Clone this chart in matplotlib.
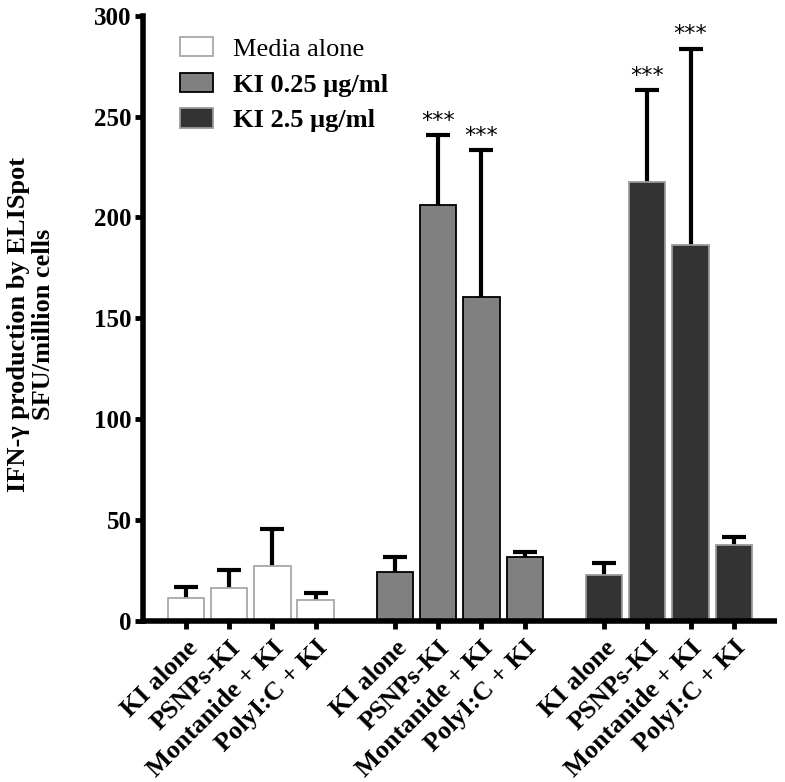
import matplotlib
matplotlib.use('Agg')
import matplotlib.pyplot as plt
import numpy as np
from matplotlib.patches import Patch

plt.rcParams['font.family'] = 'Liberation Serif'
plt.rcParams['font.weight'] = 'bold'
plt.rcParams['axes.labelweight'] = 'bold'

# values, SFU/million cells
categories = ['KI alone', 'PSNPs-KI', 'Montanide + KI', 'PolyI:C + KI']
groups = ['Media alone', 'KI 0.25 \u03bcg/ml', 'KI 2.5 \u03bcg/ml']
means = [
    [11.5, 16.3, 27.0, 10.2],
    [24.0, 206.3, 160.5, 31.6],
    [22.9, 217.6, 186.5, 37.6],
]
upper = [
    [16.9, 25.2, 45.6, 13.8],
    [31.6, 240.9, 233.4, 34.1],
    [28.7, 263.2, 283.7, 41.4],
]
stars = [
    [None, None, None, None],
    [None, '***', '***', None],
    [None, '***', '***', None],
]

faces = ['white', '#808080', '#333333']
edges = ['#a8a8a8', 'black', '#9a9a9a']

fig = plt.figure(figsize=(7.85, 7.82), dpi=100)
ax = fig.add_axes([0.182, 0.206, 0.808, 0.774])

gap = 4.83
width = 0.84
ticks = []
labels = []
for g in range(3):
    x = np.arange(4) + g * gap
    m = np.array(means[g])
    err = np.array(upper[g]) - m
    # symmetric bars, lower half hidden behind the bar
    ax.errorbar(x, m, yerr=err, fmt='none', ecolor='black',
                elinewidth=3, capsize=8.5, capthick=3, zorder=1)
    ax.bar(x, m, width, color=faces[g], edgecolor=edges[g], linewidth=1.3, zorder=2)
    for i in range(4):
        if stars[g][i]:
            ax.text(x[i], upper[g][i] + 2, stars[g][i], ha='center', va='bottom',
                    fontsize=16, fontweight='normal', family='DejaVu Sans')
    ticks += list(x)
    labels += categories

ax.set_xlim(-0.99, 13.66)
ax.set_ylim(0, 300)
ax.set_yticks(range(0, 301, 50))
ax.set_xticks(ticks)
ax.set_xticklabels(labels, rotation=45, ha='right', rotation_mode='anchor', fontsize=19)
ax.tick_params(axis='y', labelsize=18, width=3.5, length=6, pad=2)
ax.tick_params(axis='x', width=3.5, length=6, pad=5)

for s in ['top', 'right']:
    ax.spines[s].set_visible(False)
for s in ['left', 'bottom']:
    ax.spines[s].set_linewidth(4)
ax.spines['bottom'].set_capstyle('butt')

ax.set_ylabel('IFN-\u03b3 production by ELISpot\nSFU/million cells', fontsize=19,
              linespacing=1.1)
ax.yaxis.set_label_coords(-0.139, 0.49)

handles = [Patch(facecolor=faces[k], edgecolor=edges[k], linewidth=1.3) for k in range(3)]
leg = ax.legend(handles, groups, loc='upper left', bbox_to_anchor=(0.058, 0.965),
                frameon=False, fontsize=19, handlelength=1.25, handleheight=0.76,
                labelspacing=0.45, handletextpad=0.76, borderpad=0, borderaxespad=0)
leg.get_texts()[0].set_fontweight('normal')

fig.savefig('out.png', dpi=100)
